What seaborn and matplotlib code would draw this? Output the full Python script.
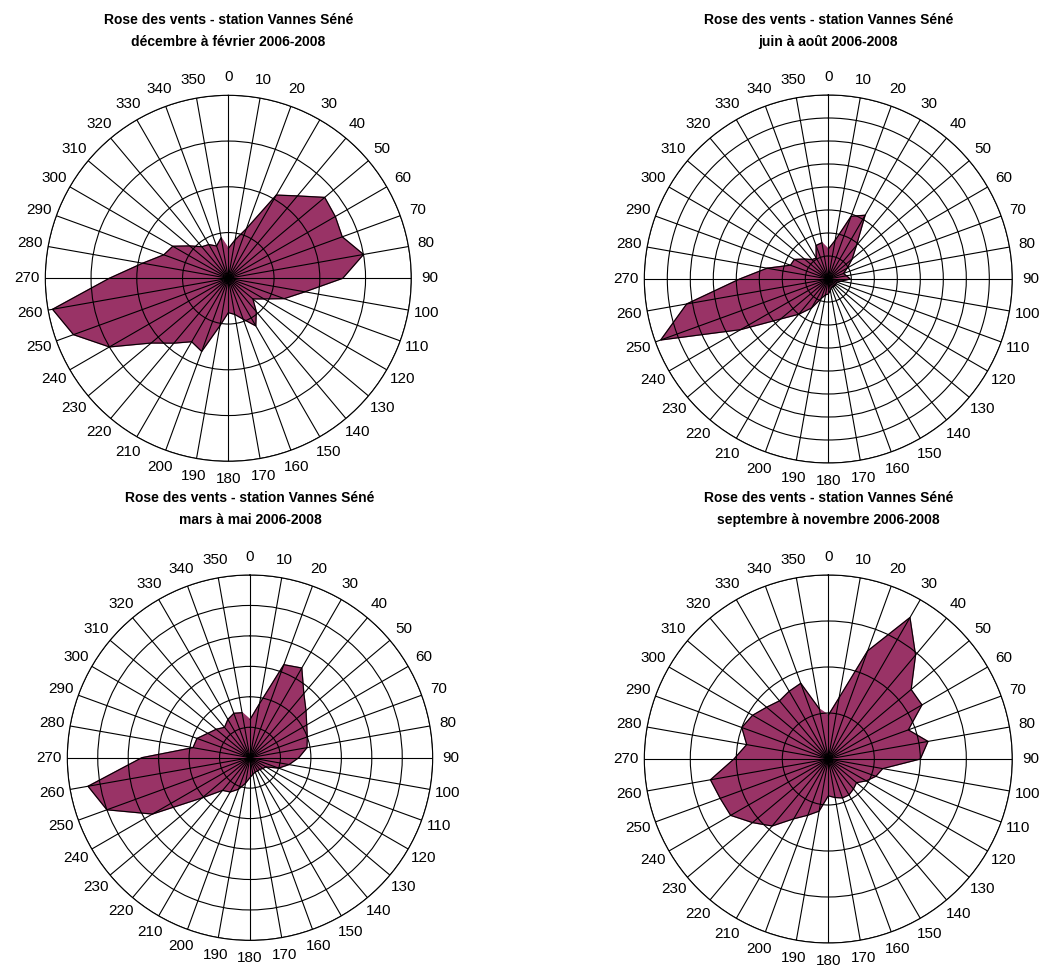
import numpy as np
import seaborn as sns
import matplotlib
matplotlib.use("Agg")
import matplotlib.pyplot as plt

# Directions (degrees) and frequencies per season (%)
directions = list(range(0, 360, 10))

hiver = [1.3, 1.7, 2.3, 4.2, 4.7, 5.5, 5.4, 5.3, 6.0, 5.0, 3.4, 2.6,
         1.8, 1.4, 1.9, 2.4, 1.9, 1.6, 1.5, 2.1, 3.4, 3.2, 3.7, 4.4,
         6.0, 7.2, 7.8, 5.2, 3.8, 3.0, 2.8, 2.2, 1.8, 1.7, 1.5, 1.8]

ete = [2.6, 3.4, 5.8, 6.4, 3.8, 2.7, 1.9, 1.4, 1.6, 1.9, 1.1, 0.8,
       0.8, 0.8, 0.8, 0.8, 0.8, 1.0, 1.3, 1.4, 1.8, 2.9, 4.0, 5.4,
       8.8, 15.5, 12.5, 7.7, 5.4, 3.5, 3.4, 2.7, 2.2, 2.1, 3.1, 3.2]

printemps = [2.5, 3.6, 6.5, 6.8, 5.5, 4.8, 4.3, 4.0, 3.8, 3.2, 2.6, 2.0,
             1.2, 1.1, 1.0, 1.0, 1.0, 1.1, 1.3, 1.7, 2.2, 2.6, 2.8, 4.1,
             7.4, 10.0, 10.8, 7.1, 3.8, 3.7, 3.2, 2.9, 2.6, 2.9, 3.1, 3.0]

automne = [1.9, 2.7, 5.0, 7.1, 5.9, 4.7, 4.7, 3.7, 4.4, 4.0, 2.4, 2.2,
           1.9, 1.6, 1.7, 1.8, 1.8, 1.7, 1.6, 2.3, 2.6, 3.0, 3.8, 4.3,
           4.9, 5.0, 5.2, 4.1, 3.6, 4.0, 3.8, 3.5, 3.3, 3.4, 3.5, 2.2]

titre = "Rose des vents - station Vannes Séné"
periodes = ["décembre à février 2006-2008", "juin à août 2006-2008",
            "mars à mai 2006-2008", "septembre à novembre 2006-2008"]
series = [hiver, ete, printemps, automne]
maxima = [8, 16, 12, 8]

sns.set_theme(style="white")
plt.rcParams['font.family'] = ['Liberation Sans', 'DejaVu Sans']

W, H = 1045, 968
fig = plt.figure(figsize=(W / 100, H / 100), dpi=100)

# (centre x, centre y, rayon) en pixels
geom = [(228.3, 278.3, 183), (828.3, 279, 184),
        (250, 757.7, 182.7), (828.3, 759, 184)]
title_y = [20, 20, 498, 498]

couleur = "#993366"

for i in range(4):
    cx, cy, R = geom[i]
    ax = fig.add_axes([(cx - R) / W, (H - cy - R) / H, 2 * R / W, 2 * R / H],
                      projection="polar")
    ax.set_theta_zero_location("N")
    ax.set_theta_direction(-1)

    theta = np.deg2rad(directions + [directions[0]])
    vals = series[i] + [series[i][0]]
    ax.fill(theta, vals, color=couleur, zorder=1)
    sns.lineplot(x=theta, y=vals, ax=ax, sort=False, color="black",
                 linewidth=0.8, zorder=3)

    ax.set_ylim(0, maxima[i])
    ax.set_yticks(np.arange(2, maxima[i] + 0.1, 2) if maxima[i] > 8
                  else np.arange(maxima[i] / 4, maxima[i] + 0.1, maxima[i] / 4))
    ax.set_yticklabels([])
    ax.set_thetagrids(directions, [str(d) for d in directions], fontsize=11)
    ax.tick_params(axis="x", pad=0, colors="black")
    ax.set_axisbelow(False)
    ax.grid(True, color="black", linewidth=0.8)
    ax.spines["polar"].set_color("black")
    ax.spines["polar"].set_linewidth(0.8)
    ax.set_xlabel("")
    ax.set_ylabel("")

    fig.text(cx / W, 1 - title_y[i] / H, titre, ha="center", va="center",
             fontsize=10, fontweight="bold", color="black")
    fig.text(cx / W, 1 - (title_y[i] + 22) / H, periodes[i], ha="center",
             va="center", fontsize=10, fontweight="bold", color="black")

fig.savefig("out.png", dpi=100)
